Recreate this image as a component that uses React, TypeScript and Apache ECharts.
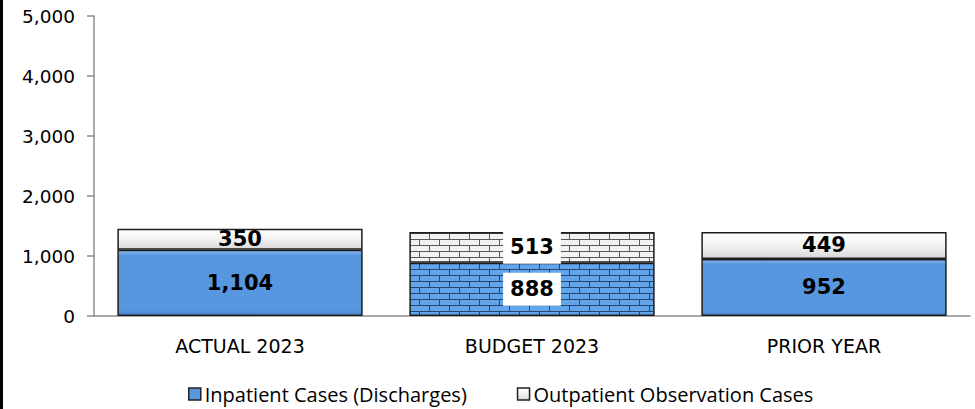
import React, { useEffect, useRef } from "react";
import * as echarts from "echarts";

const categories = ["ACTUAL 2023", "BUDGET 2023", "PRIOR YEAR"];
const inpatient = [1104, 888, 952];
const outpatient = [350, 513, 449];
const yTicks = { min: 0, max: 5000, interval: 1000 };
const seriesNames = ["Inpatient Cases (Discharges)", "Outpatient Observation Cases"];
const patternedIndex = 1;

function makeBrick(brick: string, mortar: string): HTMLCanvasElement {
  const c = document.createElement("canvas");
  c.width = 20;
  c.height = 12;
  const ctx = c.getContext("2d")!;
  ctx.fillStyle = brick;
  ctx.fillRect(0, 0, 20, 12);
  ctx.fillStyle = mortar;
  ctx.fillRect(0, 5, 20, 1);
  ctx.fillRect(0, 11, 20, 1);
  ctx.fillRect(19, 0, 1, 6);
  ctx.fillRect(9, 6, 1, 6);
  return c;
}

export default function App() {
  const ref = useRef<HTMLDivElement>(null);
  useEffect(() => {
    const chart = echarts.init(ref.current!, undefined, { renderer: "svg" });
    const blueGrad = new echarts.graphic.LinearGradient(0, 0, 0, 1, [
      { offset: 0, color: "#8cbcf0" },
      { offset: 0.08, color: "#5797e0" },
      { offset: 0.92, color: "#5797e0" },
      { offset: 1, color: "#4a87cf" },
    ]);
    const greyGrad = new echarts.graphic.LinearGradient(0, 0, 0, 1, [
      { offset: 0, color: "#ffffff" },
      { offset: 0.5, color: "#f2f2f2" },
      { offset: 1, color: "#d9d9d9" },
    ]);
    const blueBrick = makeBrick("#62a5ea", "#27466f");
    const greyBrick = makeBrick("#f2f2f2", "#5a5a5a");
    const labelBase = {
      show: true,
      position: "inside" as const,
      color: "#000",
      fontFamily: "DejaVu Sans",
      fontWeight: "bold" as const,
      fontSize: 21,
    };
    const mkData = (vals: number[], grad: any, brick: HTMLCanvasElement) =>
      vals.map((v, i) =>
        i === patternedIndex
          ? {
              value: v,
              itemStyle: { color: { image: brick, repeat: "repeat" } },
              label: { backgroundColor: "#fff", padding: [7, 7, 5, 7] },
            }
          : { value: v, itemStyle: { color: grad } }
      );
    chart.setOption({
      animation: false,
      graphic: [
        { type: "rect", left: 0, top: 0, shape: { width: 3, height: 409 }, style: { fill: "#000" } },
      ],
      grid: { left: 94, right: 5, top: 16, bottom: 93, containLabel: false },
      legend: {
        left: 183,
        top: 380,
        padding: [2, 5],
        itemWidth: 12,
        itemHeight: 12,
        itemGap: 50,
        icon: "rect",
        textStyle: {
          fontFamily: "Open Sans",
          fontSize: 20,
          lineHeight: 24,
          color: "#000",
          padding: [0, 0, 0, -1],
        },
        data: [
          { name: seriesNames[0], itemStyle: { color: blueGrad, borderColor: "#222", borderWidth: 1.5 } },
          { name: seriesNames[1], itemStyle: { color: greyGrad, borderColor: "#222", borderWidth: 1.5 } },
        ],
      },
      xAxis: {
        type: "category",
        data: categories,
        axisLine: { lineStyle: { color: "#8c8c8c", width: 1.5 } },
        axisTick: { show: false },
        axisLabel: { color: "#000", fontFamily: "DejaVu Sans", fontSize: 19, margin: 20 },
      },
      yAxis: {
        type: "value",
        min: yTicks.min,
        max: yTicks.max,
        interval: yTicks.interval,
        axisLine: { show: true, lineStyle: { color: "#8c8c8c", width: 1.5 } },
        axisTick: { show: true, length: 7, lineStyle: { color: "#8c8c8c", width: 1.5 } },
        splitLine: { show: false },
        axisLabel: {
          color: "#000",
          fontFamily: "DejaVu Sans",
          fontSize: 18.5,
          margin: 19,
          formatter: (v: number) => v.toLocaleString("en-US"),
        },
      },
      series: [
        {
          name: seriesNames[0],
          type: "bar",
          stack: "total",
          barWidth: "84%",
          itemStyle: { borderColor: "#1c1c1c", borderWidth: 1.5 },
          label: { ...labelBase, formatter: (p: any) => p.value.toLocaleString("en-US") },
          data: mkData(inpatient, blueGrad, blueBrick),
        },
        {
          name: seriesNames[1],
          type: "bar",
          stack: "total",
          barWidth: "84%",
          itemStyle: { borderColor: "#1c1c1c", borderWidth: 1.5 },
          label: { ...labelBase, formatter: (p: any) => p.value.toLocaleString("en-US") },
          data: mkData(outpatient, greyGrad, greyBrick),
        },
      ],
    });
    return () => chart.dispose();
  }, []);
  return (
    <div
      ref={ref}
      style={{ position: "fixed", left: 0, top: 0, width: 975, height: 409, background: "#fff" }}
    />
  );
}
